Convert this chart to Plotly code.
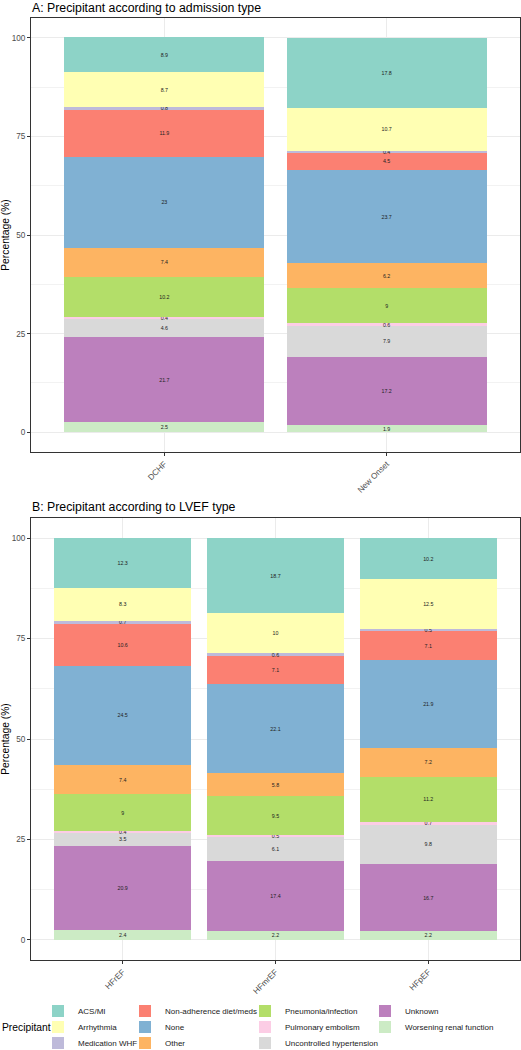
import plotly.graph_objects as go

# ---------------- data ----------------
precipitants = ["ACS/MI", "Arrhythmia", "Medication WHF", "Non-adherence diet/meds", "None",
                "Other", "Pneumonia/infection", "Pulmonary embolism",
                "Uncontrolled hypertension", "Unknown", "Worsening renal function"]
colors = ["#8DD3C7", "#FFFFB3", "#BEBADA", "#FB8072", "#80B1D3", "#FDB462",
          "#B3DE69", "#FCCDE5", "#D9D9D9", "#BC80BD", "#CCEBC5"]

admission_types = ["DCHF", "New Onset"]
dchf = [8.9, 8.7, 0.8, 11.9, 23, 7.4, 10.2, 0.4, 4.6, 21.7, 2.5]
new_onset = [17.8, 10.7, 0.4, 4.5, 23.7, 6.2, 9, 0.6, 7.9, 17.2, 1.9]

lvef_types = ["HFrEF", "HFmrEF", "HFpEF"]
hfref = [12.3, 8.3, 0.7, 10.6, 24.5, 7.4, 9, 0.4, 3.5, 20.9, 2.4]
hfmref = [18.7, 10, 0.6, 7.1, 22.1, 5.8, 9.5, 0.5, 6.1, 17.4, 2.2]
hfpef = [10.2, 12.5, 0.5, 7.1, 21.9, 7.2, 11.2, 0.7, 9.8, 16.7, 2.2]

y_ticks = [0, 25, 50, 75, 100]

# ---------------- layout helpers ----------------
W, H = 521, 1050
FONT = "Liberation Sans, Arial, sans-serif"

def px_x(p):
    return p / W

def px_y(p):
    return 1 - p / H

fig = go.Figure()

# legend placement (column-major, 4 columns x 3 rows)
key_left = [54, 141, 261, 381]
row_center = [1011, 1027, 1043]

legend_layouts = {}
n = len(precipitants)
for i in reversed(range(n)):
    name = precipitants[i]
    col, row = i // 3, i % 3
    lname = "legend" if i == 0 else f"legend{i + 1}"
    legend_layouts[lname] = dict(
        x=px_x(key_left[col] - 16), xanchor="left",
        y=px_y(row_center[row]), yanchor="middle",
        bgcolor="rgba(0,0,0,0)", borderwidth=0,
        font=dict(size=8.0, color="#1a1a1a", family=FONT),
        orientation="v", itemclick=False, itemdoubleclick=False,
    )
    common = dict(
        name=name, marker=dict(color=colors[i], line=dict(width=0)),
        texttemplate="%{y}", textposition="inside", insidetextanchor="middle",
        textangle=0, textfont=dict(size=5.3, color="#222222", family=FONT),
        hoverinfo="skip",
    )
    fig.add_trace(go.Bar(x=admission_types, y=[dchf[i], new_onset[i]],
                         xaxis="x", yaxis="y", showlegend=False, **common))
    fig.add_trace(go.Bar(x=lvef_types, y=[hfref[i], hfmref[i], hfpef[i]],
                         xaxis="x2", yaxis="y2", showlegend=True, legend=lname,
                         **common))

axis_common = dict(
    showline=True, mirror=True, linecolor="#333333", linewidth=1,
    ticks="outside", ticklen=3, tickwidth=1, tickcolor="#333333",
    tickfont=dict(size=8.2, color="#4D4D4D", family=FONT),
    showgrid=True, gridcolor="#EBEBEB", gridwidth=1, zeroline=False,
    automargin=False,
)

xdom = [px_x(31), px_x(520)]
yaxis_common = dict(
    axis_common, range=[-5, 105], tickvals=y_ticks,
    minor=dict(dtick=12.5, tick0=0, showgrid=True, gridcolor="#F2F2F2", gridwidth=0.6, ticks=""),
    title=dict(text="Percentage (%)", font=dict(size=10.3, color="#000000", family=FONT), standoff=0),
)

fig.update_layout(
    width=W, height=H,
    margin=dict(l=0, r=0, t=0, b=0, autoexpand=False),
    paper_bgcolor="white", plot_bgcolor="white",
    barmode="stack", bargap=0.1,
    font=dict(family=FONT),
    uniformtext=dict(minsize=5.3, mode="show"),
    hovermode=False,
    xaxis=dict(axis_common, domain=xdom, anchor="y", range=[-0.6, 1.6], tickangle=-45),
    yaxis=dict(yaxis_common, domain=[px_y(452), px_y(18)], anchor="x"),
    xaxis2=dict(axis_common, domain=xdom, anchor="y2", range=[-0.6, 2.6], tickangle=-45),
    yaxis2=dict(yaxis_common, domain=[px_y(960), px_y(518)], anchor="x2"),
    annotations=[
        dict(text="A: Precipitant according to admission type", x=px_x(30), y=px_y(-1),
             xref="paper", yref="paper", xanchor="left", yanchor="top", showarrow=False,
             font=dict(size=12.3, color="#000000", family=FONT)),
        dict(text="B: Precipitant according to LVEF type", x=px_x(30), y=px_y(498),
             xref="paper", yref="paper", xanchor="left", yanchor="top", showarrow=False,
             font=dict(size=12.3, color="#000000", family=FONT)),
        dict(text="Precipitant", x=px_x(0), y=px_y(1027),
             xref="paper", yref="paper", xanchor="left", yanchor="middle", showarrow=False,
             font=dict(size=10.3, color="#000000", family=FONT)),
    ],
    **legend_layouts,
)

fig.write_html("out.html", config={"displayModeBar": False},
               post_script="document.body.style.margin='0px';")
